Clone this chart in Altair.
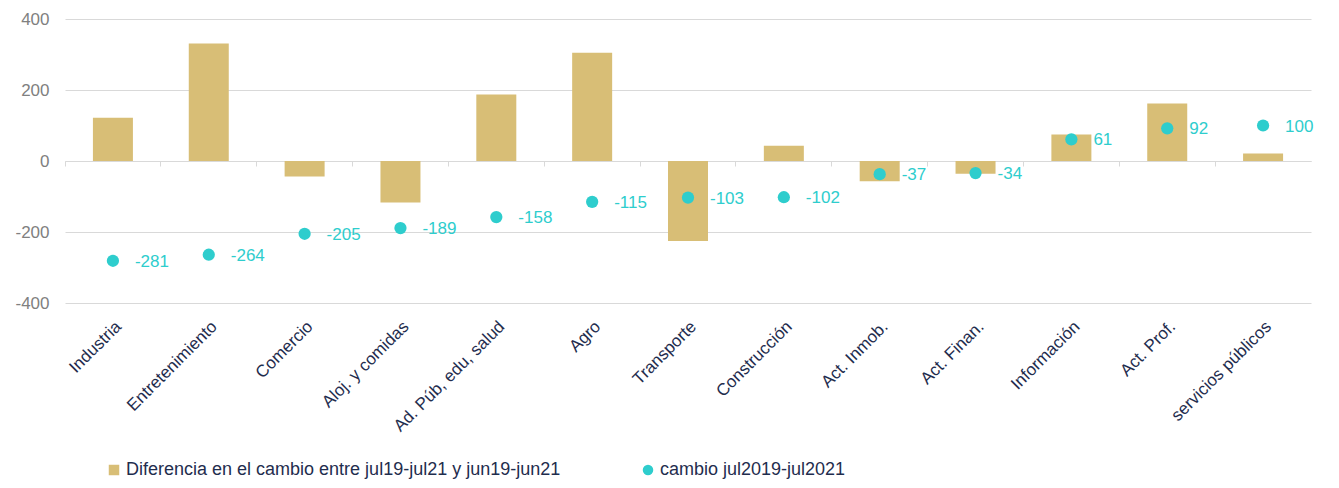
import altair as alt
import pandas as pd

categories = ["Industria", "Entretenimiento", "Comercio", "Aloj. y comidas",
              "Ad. Púb, edu, salud", "Agro", "Transporte", "Construcción",
              "Act. Inmob.", "Act. Finan.", "Información", "Act. Prof.",
              "servicios públicos"]
diferencia = [122, 331, -44, -117, 187, 305, -225, 43, -57, -36, 75, 162, 21]
cambio = [-281, -264, -205, -189, -158, -115, -103, -102, -37, -34, 61, 92, 100]
y_ticks = [-400, -200, 0, 200, 400]

s_bar = "Diferencia en el cambio entre jul19-jul21 y jun19-jun21"
s_pt = "cambio jul2019-jul2021"

df = pd.DataFrame({
    "cat": categories,
    "dif": diferencia,
    "cambio": cambio,
    "s_bar": [s_bar] * len(categories),
    "s_pt": [s_pt] * len(categories),
})

FONT = "Liberation Sans"
GOLD = "#D8BE76"
CYAN = "#2ECDCD"
NAVY = "#1F2D4E"
FS = 17

color_scale = alt.Scale(domain=[s_bar, s_pt], range=[GOLD, CYAN])
shape_scale = alt.Scale(domain=[s_bar, s_pt], range=["square", "circle"])

x = alt.X("cat:N", sort=categories, title=None,
          scale=alt.Scale(paddingInner=0, paddingOuter=0),
          axis=alt.Axis(labelAngle=-45, labelFont=FONT, labelFontSize=FS,
                        labelColor=NAVY, offset=-142, tickSize=5,
                        labelPadding=152, domainColor="#D9D9D9",
                        tickColor="#D9D9D9", bandPosition=0, grid=False,
                        labelLimit=300))

legend = alt.Legend(title=None, orient="none", direction="horizontal",
                    legendX=40, legendY=442, labelFont=FONT, labelFontSize=18,
                    labelColor=NAVY, labelLimit=700, symbolSize=110,
                    columnPadding=78, labelOffset=3, symbolStrokeWidth=0)

bars = alt.Chart(df).mark_bar(size=40).encode(
    x=x,
    y=alt.Y("dif:Q", scale=alt.Scale(domain=[-400, 400]), title=None,
            axis=alt.Axis(values=y_ticks, labelFont=FONT,
                          labelFontSize=FS, labelColor="#808080", domain=False,
                          ticks=False, labelPadding=16, gridColor="#D9D9D9",
                          labelExpr="toString(datum.value)")),
    color=alt.Color("s_bar:N", scale=color_scale, legend=legend),
)

points = alt.Chart(df).mark_point(filled=True, size=150, opacity=1).encode(
    x=alt.X("cat:N", sort=categories),
    y=alt.Y("cambio:Q"),
    color=alt.Color("s_pt:N", scale=color_scale, legend=legend),
    shape=alt.Shape("s_pt:N", scale=shape_scale, legend=legend),
)

labels = alt.Chart(df).transform_calculate(
    lbl="toString(datum.cambio)"
).mark_text(align="left", baseline="middle", dx=22, dy=1,
            font=FONT, fontSize=FS, color=CYAN).encode(
    x=alt.X("cat:N", sort=categories),
    y=alt.Y("cambio:Q"),
    text=alt.Text("lbl:N"),
)

chart = alt.layer(bars, points, labels).properties(
    width=1246, height=284,
    autosize=alt.AutoSizeParams(type="none"),
    padding={"left": 57, "top": 11, "right": 20, "bottom": 177},
).configure_view(stroke=None)

chart.save("out.html", embed_options={"renderer": "svg", "actions": False})
